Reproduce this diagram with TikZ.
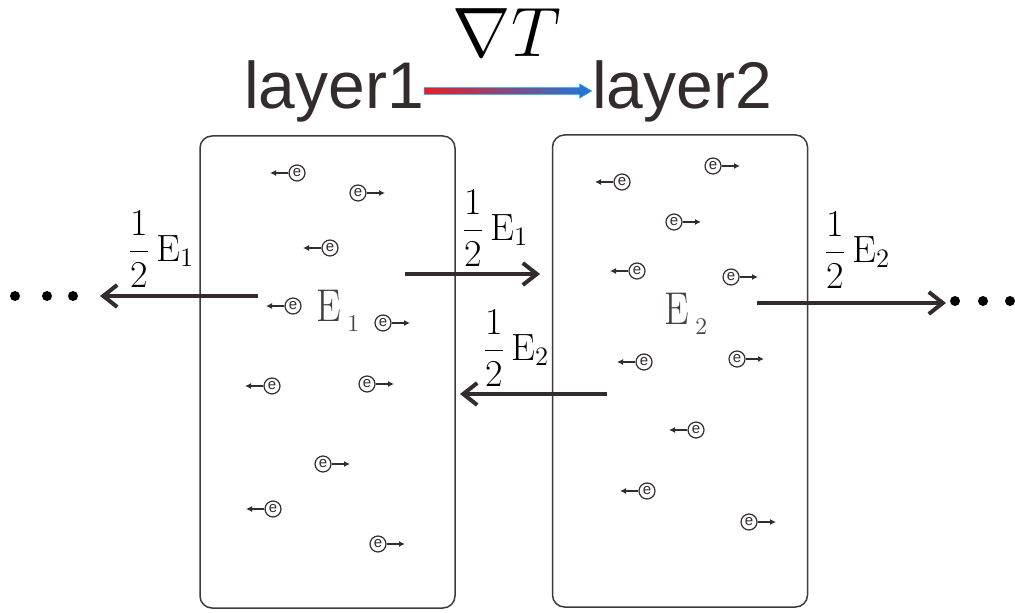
\RequirePackage{fix-cm}
\documentclass[tikz,border=0pt]{standalone}
\usepackage{fontspec}
\setsansfont{Liberation Sans}
\usetikzlibrary{arrows.meta}
\definecolor{ink}{RGB}{52,44,44}
\definecolor{boxline}{RGB}{62,58,58}
\definecolor{egray}{RGB}{70,64,64}
\definecolor{hot}{RGB}{232,30,40}
\definecolor{cold}{RGB}{30,120,220}
\definecolor{headc}{RGB}{25,165,230}

\begin{document}
\begin{tikzpicture}[x=0.5pt,y=-0.5pt,
  layerbox/.style={draw=boxline,line width=0.75pt,rounded corners=6pt,
    minimum width=127.5pt,minimum height=236pt},
  layertext/.style={font=\sffamily\fontsize{33}{33}\selectfont,text=ink,inner sep=0pt},
  elec/.style={circle,draw=ink,line width=0.6pt,inner sep=0pt,minimum size=8pt,
    text=ink,font=\sffamily\fontsize{7.5}{7.5}\selectfont},
  elarr/.style={draw=ink,line width=0.6pt,-{Latex[length=3pt,width=3pt]}},
  flow/.style={draw=ink,line width=2pt,-{Straight Barb[length=7pt,width=11pt]}},
  half/.style={font=\fontsize{19}{19}\selectfont,inner sep=0pt},
  energy/.style={font=\fontsize{23}{23}\selectfont,text=egray,inner sep=0pt},
  dot/.style={circle,fill=black,inner sep=0pt,minimum size=5pt}]
\useasboundingbox (0,0) rectangle (1015,613);

% the two layers
\node[layerbox] (box1) at (327.5,372) {};
\node[layerbox] (box2) at (680,371) {};
\node[energy] (E1) at (338,311)
  {\scalebox{0.85}[1]{E}\hspace{3pt}\raisebox{-5pt}{\fontsize{12}{12}\selectfont 1}};
\node[energy] (E2) at (686,314)
  {\scalebox{0.85}[1]{E}\hspace{3pt}\raisebox{-5pt}{\fontsize{12}{12}\selectfont 2}};

% temperature gradient
\node[layertext] (l1) at (334,91) {layer1};
\node[layertext] (l2) at (682,91) {layer2};
\node[font=\fontsize{35}{35}\selectfont,inner sep=0pt] (grad) at (507,33) {$\nabla T$};
\shade[left color=hot,right color=cold,draw=headc,line width=0.3pt]
  ([yshift=1.7pt]l1.east) -- ([xshift=-6pt,yshift=1.7pt]l2.west)
  -- ([xshift=-6pt,yshift=3.5pt]l2.west) -- (l2.west)
  -- ([xshift=-6pt,yshift=-3.5pt]l2.west) -- ([xshift=-6pt,yshift=-1.7pt]l2.west)
  -- ([yshift=-1.7pt]l1.east) -- cycle;

% electrons
\foreach \x/\y/\d [count=\i] in {297/173/-1,358/193/1,330/248/-1,293/306/-1,383/323/1,
    272/386/-1,367/384/1,323/464/1,273/509/-1,378/544/1,
    713/166/1,622/182/-1,674/222/1,637/271/-1,731/277/1,
    737/359/1,644/362/-1,696/430/-1,647/491/-1,749/522/1}{
  \node[elec] (el\i) at (\x,\y) {e};
  \draw[elarr] (el\i) -- ++({\d*27},0);
}

% energy flow
\coordinate (a1s) at (258,296); \coordinate (a1t) at (100,296);
\coordinate (a2s) at (405,274); \coordinate (a2t) at (540,274);
\coordinate (a3s) at (607,394); \coordinate (a3t) at (460,394);
\coordinate (a4s) at (757,303); \coordinate (a4t) at (946,303);
\draw[flow] (a1s) -- (a1t);
\draw[flow] (a2s) -- (a2t);
\draw[flow] (a3s) -- (a3t);
\draw[flow] (a4s) -- (a4t);
\node[half] (h1) at (161,249) {$\displaystyle\frac{1}{2}\,\mathrm{E}_1$};
\node[half] (h2) at (495,228) {$\displaystyle\frac{1}{2}\,\mathrm{E}_1$};
\node[half] (h3) at (516,348) {$\displaystyle\frac{1}{2}\,\mathrm{E}_2$};
\node[half] (h4) at (857,250) {$\displaystyle\frac{1}{2}\,\mathrm{E}_2$};

\foreach \x [count=\i] in {15,47,73} \node[dot] (ld\i) at (\x,296) {};
\foreach \x [count=\i] in {955,983,1010} \node[dot] (rd\i) at (\x,301) {};
\end{tikzpicture}
\end{document}
